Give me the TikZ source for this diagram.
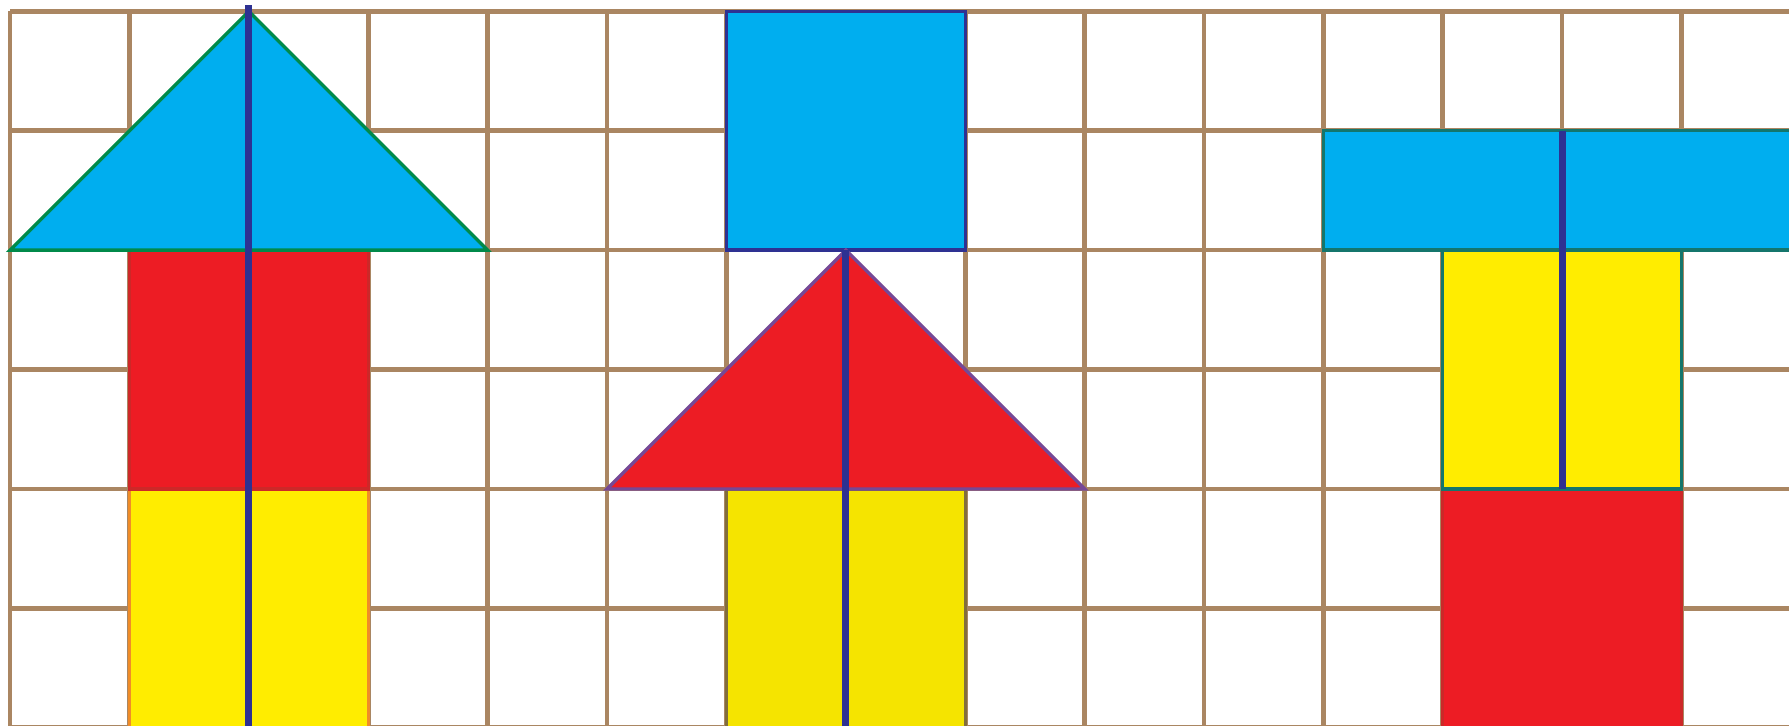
\documentclass[tikz,border=0pt]{standalone}
\usepackage{tikz}
\definecolor{gridbrown}{RGB}{170,134,98}
\definecolor{skyblue}{RGB}{0,174,239}
\definecolor{flagred}{RGB}{237,28,36}
\definecolor{lemon}{RGB}{255,237,0}
\definecolor{navy}{RGB}{46,49,146}
\definecolor{leafgreen}{RGB}{0,138,74}
\definecolor{tealedge}{RGB}{20,118,108}
\definecolor{plumedge}{RGB}{118,72,150}
\definecolor{orangeedge}{RGB}{240,140,40}
\definecolor{oliveedge}{RGB}{130,110,60}
\definecolor{rededge}{RGB}{205,40,40}

\begin{document}
\begin{tikzpicture}[scale=1,
  piece/.style={line width=0.8pt,line join=miter},
  axis/.style={navy,line width=1.6pt}]
\useasboundingbox (-0.084,0.015) rectangle (14.9,6.095);
\clip (-0.084,0.015) rectangle (14.9,6.095);
\draw[gridbrown,line width=1.1pt] (0,0) grid (15,6);
% left figure
\filldraw[piece,fill=lemon,draw=orangeedge] (1,-0.1) rectangle (3,2);
\filldraw[piece,fill=flagred,draw=rededge] (1,2) rectangle (3,4);
\filldraw[piece,fill=skyblue,draw=leafgreen] (0,4) -- (2,6) -- (4,4) -- cycle;
\coordinate (top1) at (2,6.05);
\coordinate (bot1) at (2,-0.1);
\draw[axis] (top1) -- (bot1);
% middle figure
\filldraw[piece,fill=lemon!96!black,draw=oliveedge] (6,-0.1) rectangle (8,2);
\filldraw[piece,fill=skyblue,draw=navy] (6,4) rectangle (8,6);
\filldraw[piece,fill=flagred,draw=plumedge] (5,2) -- (7,4) -- (9,2) -- cycle;
\coordinate (top2) at (7,4);
\coordinate (bot2) at (7,-0.1);
\draw[axis] (top2) -- (bot2);
% right figure
\filldraw[piece,fill=flagred,draw=rededge] (12,-0.1) rectangle (14,2);
\filldraw[piece,fill=lemon,draw=tealedge] (12,2) rectangle (14,4);
\filldraw[piece,fill=skyblue,draw=tealedge] (11,4) rectangle (15.2,5);
\coordinate (top3) at (13,5);
\coordinate (bot3) at (13,2);
\draw[axis] (top3) -- (bot3);
\end{tikzpicture}
\end{document}
